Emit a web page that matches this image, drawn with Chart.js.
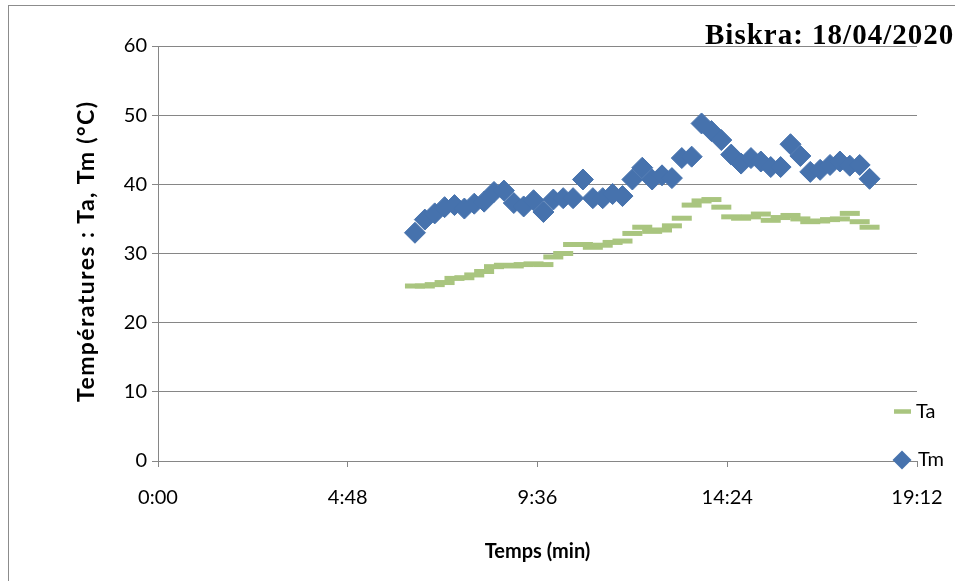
<!DOCTYPE html>
<html><head><meta charset="utf-8">
<script src="https://cdn.jsdelivr.net/npm/chart.js@4/dist/chart.umd.min.js"></script>
<style>html,body{margin:0;padding:0;background:#fff;overflow:hidden}#wrap{width:955px;height:581px;position:relative}canvas{display:block}</style>
</head><body><div id="wrap"><canvas id="c" width="955" height="581"></canvas></div>
<script>
// ---- data ----
const times = ["6:30","6:45","7:00","7:15","7:30","7:45","8:00","8:15","8:30","8:45",
  "9:00","9:15","9:30","9:45","10:00","10:15","10:30","10:45","11:00","11:15",
  "11:30","11:45","12:00","12:15","12:30","12:45","13:00","13:15","13:30","13:45",
  "14:00","14:15","14:30","14:45","15:00","15:15","15:30","15:45","16:00","16:15",
  "16:30","16:45","17:00","17:15","17:30","17:45","18:00"];
const ta = [25.3,25.3,25.5,25.8,26.4,26.5,26.9,27.4,28.1,28.3,
  28.2,28.4,28.5,28.4,29.5,30.0,31.3,31.3,30.9,31.2,
  31.6,31.8,32.9,33.8,33.2,33.4,34.0,35.1,37.0,37.6,
  37.8,36.7,35.3,35.1,35.3,35.7,34.8,35.2,35.5,35.0,
  34.6,34.7,34.9,35.0,35.8,34.6,33.8];
const tm = [33.0,34.9,35.8,36.7,37.0,36.5,37.2,37.5,38.9,39.1,
  37.3,36.8,37.7,36.0,37.8,38.0,38.0,40.7,38.0,38.0,
  38.6,38.3,40.7,42.4,40.7,41.3,40.9,43.8,44.0,48.8,
  47.7,46.4,44.3,43.0,43.8,43.3,42.5,42.5,45.8,44.1,
  41.8,42.1,42.8,43.3,42.7,42.8,40.8];
const xTickLabels = ["0:00","4:48","9:36","14:24","19:12"];
const yTicks = [0,10,20,30,40,50,60];
const seriesNames = ["Ta","Tm"];
const chartTitle = "Biskra: 18/04/2020";
const xTitle = "Temps (min)";
const yTitle = "Températures : Ta, Tm (°C)";

// ---- helpers ----
const toMin = s => { const [h,m] = s.split(":").map(Number); return h*60+m; };
const xTickValues = xTickLabels.map(toMin);
const pts = arr => arr.map((v,i)=>({x: toMin(times[i]), y: v}));

const FONT = "Lato, 'Liberation Sans', sans-serif";
const GRID = '#868686';
const GREEN = '#A9C57F';
const BLUE = '#4672AD';

const decor = {
  id: 'decor',
  afterDraw(chart){
    const ctx = chart.ctx;
    ctx.save();
    // outer frame
    ctx.strokeStyle = '#8c8c8c'; ctx.lineWidth = 1;
    ctx.strokeRect(8.5, 5.5, 1000, 1000);
    // title
    ctx.fillStyle = '#000';
    ctx.font = "bold 29px 'Liberation Serif', 'Times New Roman', serif";
    ctx.textBaseline = 'alphabetic'; ctx.textAlign = 'left';
    ctx.letterSpacing = '1px';
    ctx.fillText(chartTitle, 705, 44);
    ctx.letterSpacing = '0px';
    // y-axis title (rotated)
    ctx.save();
    ctx.font = "bold 23px " + FONT;
    const w0 = ctx.measureText(yTitle).width;
    const sp = Math.max(0, (300 - w0) / (yTitle.length - 1));
    ctx.letterSpacing = sp.toFixed(2) + 'px';
    ctx.translate(87, 252);
    ctx.rotate(-Math.PI/2);
    ctx.textAlign = 'center'; ctx.textBaseline = 'middle';
    ctx.fillText(yTitle, sp/2, 0);
    ctx.restore();
    // legend
    ctx.font = "20px " + FONT;
    ctx.textBaseline = 'middle'; ctx.textAlign = 'left';
    ctx.strokeStyle = GREEN; ctx.lineWidth = 4.5;
    ctx.beginPath(); ctx.moveTo(894, 411.5); ctx.lineTo(911, 411.5); ctx.stroke();
    ctx.fillStyle = '#000';
    ctx.fillText(seriesNames[0], 916, 412);
    ctx.fillStyle = BLUE;
    const cx = 902, cy = 460, r = 9.5;
    ctx.beginPath(); ctx.moveTo(cx, cy-r); ctx.lineTo(cx+r, cy); ctx.lineTo(cx, cy+r); ctx.lineTo(cx-r, cy); ctx.closePath(); ctx.fill();
    ctx.fillStyle = '#000';
    ctx.fillText(seriesNames[1], 918, 460);
    ctx.restore();
  }
};

new Chart(document.getElementById('c'), {
  type: 'scatter',
  data: { datasets: [
    { label: seriesNames[0], data: pts(ta), showLine:false, pointStyle:'line', pointRadius:10, pointHoverRadius:10,
      borderColor: GREEN, backgroundColor: GREEN, pointBorderWidth:5, pointHoverBorderWidth:5 },
    { label: seriesNames[1], data: pts(tm), showLine:false, pointStyle:'rectRot', pointRadius:10.5, pointHoverRadius:10.5,
      borderColor: BLUE, backgroundColor: BLUE, pointBorderWidth:1 }
  ]},
  options: {
    responsive:false, animation:false, devicePixelRatio:1,
    layout:{ padding:{ left:0, right:38, top:46, bottom:0 } },
    plugins:{ legend:{display:false}, tooltip:{enabled:false}, title:{display:false} },
    scales:{
      x:{ type:'linear', min:0, max:1152,
        afterBuildTicks: s => { s.ticks = xTickValues.map(v=>({value:v})); },
        ticks:{ callback:(v)=>{ const i = xTickValues.indexOf(v); return i>=0 ? xTickLabels[i] : ''; },
          font:{family:FONT, size:20}, color:'#000', padding:19, maxRotation:0, autoSkip:false },
        grid:{ drawOnChartArea:false, drawTicks:true, tickLength:6, color:GRID, lineWidth:1 },
        border:{ display:true, color:GRID, width:1 },
        title:{ display:true, text:xTitle, color:'#000', font:{family:FONT, size:20, weight:'bold'}, padding:{top:0,bottom:17} },
        afterFit: s => { s.height = 120; s.paddingLeft = 0; s.paddingRight = 0; }
      },
      y:{ min:0, max:60,
        afterBuildTicks: s => { s.ticks = yTicks.map(v=>({value:v})); },
        ticks:{ font:{family:FONT, size:20}, color:'#000', padding:5 },
        grid:{ drawTicks:true, tickLength:6, color:GRID, lineWidth:1 },
        border:{ display:true, color:GRID, width:1 },
        title:{ display:false },
        afterFit: s => { s.width = 158; s.paddingTop = 0; s.paddingBottom = 0; }
      }
    }
  },
  plugins:[decor]
});
</script></body></html>
